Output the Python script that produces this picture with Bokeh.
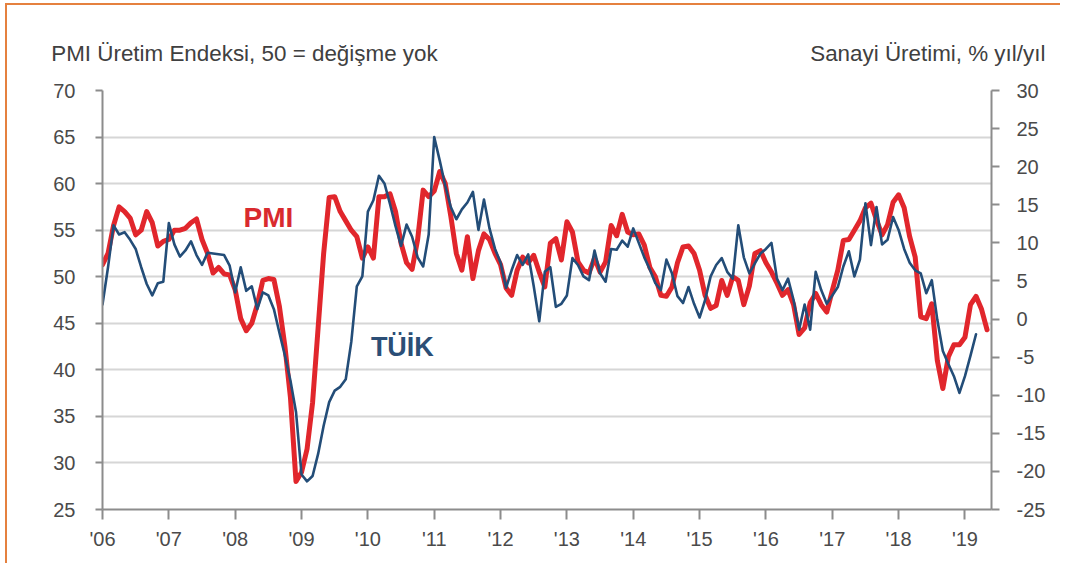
from bokeh.plotting import figure
from bokeh.models import Range1d, LinearAxis, FixedTicker, Label
from bokeh.embed import file_html
from bokeh.resources import INLINE

# ---- data: monthly, starting January 2006 ----
start_year = 2006
pmi = [
    51.3, 52.5, 55.5, 57.5, 57.0, 56.3, 54.5, 55.0, 57.0, 55.8, 53.3, 53.8,   # 2006
    54.0, 55.0, 55.0, 55.2, 55.8, 56.2, 54.0, 52.5, 50.4, 51.0, 50.3, 50.2,   # 2007
    48.6, 45.5, 44.2, 45.0, 47.0, 49.6, 49.8, 49.7, 46.8, 42.5, 37.0, 28.0,   # 2008
    29.0, 31.5, 36.5, 44.5, 52.5, 58.5, 58.6, 57.0, 56.0, 55.0, 54.3, 52.0,   # 2009
    53.2, 52.0, 58.6, 58.6, 58.9, 57.0, 53.6, 51.5, 50.8, 54.0, 59.3, 58.6,   # 2010
    59.2, 61.3, 60.0, 56.5, 52.5, 50.7, 54.3, 49.8, 52.8, 54.6, 54.0, 52.5,   # 2011
    51.3, 48.8, 48.0, 50.7, 52.1, 51.5, 52.3, 50.5, 48.9, 53.6, 54.1, 51.8,   # 2012
    55.9, 54.8, 51.6, 50.7, 50.4, 52.0, 50.5, 51.6, 55.5, 54.4, 56.7, 54.8,   # 2013
    54.5, 54.6, 53.4, 51.0, 50.0, 48.0, 47.9, 48.9, 51.5, 53.2, 53.3, 52.5,   # 2014
    50.7, 48.0, 46.6, 46.9, 49.6, 48.0, 50.0, 49.6, 47.0, 49.0, 52.5, 52.8,   # 2015
    51.5, 50.5, 49.3, 48.0, 48.6, 47.0, 43.8, 44.5, 47.2, 48.2, 47.0, 46.2,   # 2016
    48.5, 50.7, 53.9, 54.0, 55.0, 56.0, 57.4, 57.9, 56.1, 54.5, 55.6, 58.0,   # 2017
    58.8, 57.4, 54.3, 52.1, 45.7, 45.5, 47.1, 41.0, 38.0, 41.4, 42.7, 42.7,   # 2018
    43.5, 47.0, 47.9, 46.5, 44.3,                                             # 2019
]
tuik = [
    1.9, 6.8, 12.3, 11.1, 11.4, 10.4, 9.2, 6.8, 4.6, 3.1, 4.7, 4.9,           # 2006
    12.6, 9.8, 8.2, 9.0, 10.2, 8.4, 7.1, 8.7, 8.6, 8.5, 8.4, 7.0,             # 2007
    3.5, 6.8, 3.7, 4.3, 1.3, 3.5, 3.1, 1.3, -1.8, -4.8, -8.1, -12.2,          # 2008
    -20.4, -21.3, -20.6, -17.7, -14.0, -10.9, -9.4, -8.9, -7.9, -3.0, 4.3, 5.6,  # 2009
    14.1, 15.6, 18.8, 17.8, 15.1, 12.2, 9.6, 12.4, 10.8, 8.1, 6.9, 11.1,      # 2010
    23.9, 20.8, 17.5, 14.7, 13.1, 14.4, 15.3, 16.7, 11.7, 15.7, 11.9, 9.2,    # 2011
    7.4, 4.1, 6.4, 8.4, 7.1, 8.5, 4.3, -0.3, 6.2, 6.8, 1.6, 2.0,              # 2012
    3.1, 8.0, 7.1, 5.6, 5.1, 9.0, 6.0, 4.9, 9.2, 9.1, 10.3, 9.5,              # 2013
    11.9, 10.0, 8.1, 6.5, 4.7, 3.8, 7.8, 6.0, 3.0, 2.1, 4.2, 2.0,             # 2014
    0.2, 2.5, 5.6, 7.1, 8.0, 6.2, 5.3, 12.3, 8.1, 6.0, 7.3, 8.6,              # 2015
    9.2, 10.0, 5.3, 3.8, 5.3, 2.5, -1.4, 1.9, -1.4, 6.2, 3.8, 2.0,            # 2016
    3.1, 4.2, 6.9, 8.9, 5.6, 7.8, 15.2, 9.7, 14.7, 9.8, 10.4, 13.4,           # 2017
    11.7, 9.2, 7.4, 6.4, 6.0, 3.4, 5.1, -0.1, -4.2, -5.9, -7.5, -9.7,         # 2018
    -7.5, -4.8, -2.0,                                                         # 2019
]
year_ticks = list(range(2006, 2020))
year_labels = ["'" + str(y)[2:] for y in year_ticks]
left_ticks = list(range(25, 75, 5))
right_ticks = list(range(-25, 35, 5))
right_labels = [str(v) for v in right_ticks]
left_title = "PMI Üretim Endeksi, 50 = değişme yok"
right_title = "Sanayi Üretimi, % yıl/yıl"

x_pmi = [start_year + i / 12 for i in range(len(pmi))]
x_tuik = [start_year + i / 12 for i in range(len(tuik))]

FONT = "Liberation Sans"
RED = "#E1262C"
BLUE = "#234D78"
AXIS = "#8C8C8C"
GRID = "#D6D6D6"
TXT = "#4A4A4A"
X_END = 2019.40

p = figure(width=1055, height=560, output_backend="svg", toolbar_location=None,
           x_range=Range1d(2006, X_END), y_range=Range1d(25, 70),
           min_border_left=95, min_border_right=71, min_border_top=85, min_border_bottom=56)
p.margin = (5, 0, 0, 7)
p.styles = {"box-shadow": "-2px -2px 0 0 #E5813F"}
p.outline_line_color = None
p.background_fill_color = "white"
p.border_fill_color = "white"
p.extra_y_ranges = {"ip": Range1d(-25, 30)}


def style_axis(ax, tick_out, standoff):
    ax.axis_line_color = AXIS
    ax.axis_line_width = 2
    ax.major_tick_line_color = AXIS
    ax.major_tick_line_width = 2
    ax.major_tick_out = tick_out
    ax.major_tick_in = 0
    ax.minor_tick_line_color = None
    ax.major_label_standoff = standoff
    ax.major_label_text_font = FONT
    ax.major_label_text_font_size = "20px"
    ax.major_label_text_color = TXT


# left axis
ya = p.yaxis[0]
ya.ticker = FixedTicker(ticks=left_ticks)
style_axis(ya, 7, 20)

# right axis
ra = LinearAxis(y_range_name="ip", ticker=FixedTicker(ticks=right_ticks))
ra.major_label_overrides = {v: l for v, l in zip(right_ticks, right_labels)}
style_axis(ra, 8, 17)
p.add_layout(ra, "right")

# x axis
xa = p.xaxis[0]
xa.ticker = FixedTicker(ticks=year_ticks)
xa.major_label_overrides = {y: l for y, l in zip(year_ticks, year_labels)}
style_axis(xa, 10, 8)

# axis titles, carried by an unlined axis above the frame
title_pos = [2008.14, 2018.44]
ta = LinearAxis(ticker=FixedTicker(ticks=title_pos))
ta.major_label_overrides = {title_pos[0]: left_title, title_pos[1]: right_title}
ta.axis_line_color = None
ta.major_tick_line_color = None
ta.minor_tick_line_color = None
ta.major_label_standoff = 19
ta.major_label_text_font = FONT
ta.major_label_text_font_size = "22.4px"
ta.major_label_text_color = "#404040"
p.add_layout(ta, "above")

p.xgrid.grid_line_color = None
p.ygrid.ticker = FixedTicker(ticks=left_ticks)
p.ygrid.grid_line_color = GRID
p.ygrid.grid_line_width = 2

p.line(x_pmi, pmi, line_color=RED, line_width=5, line_join="round", line_cap="round")
p.line(x_tuik, tuik, y_range_name="ip", line_color=BLUE, line_width=2.6,
       line_join="round", line_cap="round")

p.add_layout(Label(x=2008.50, y=56.4, text="PMI", text_font=FONT, text_font_size="28px",
                   text_font_style="bold", text_color="#D92A2E",
                   text_align="center", text_baseline="middle"))
p.add_layout(Label(x=2010.52, y=42.4, text="TÜİK", text_font=FONT, text_font_size="27px",
                   text_font_style="bold", text_color="#2B4E76",
                   text_align="center", text_baseline="middle"))

open("out.html", "w").write(file_html(p, INLINE))
